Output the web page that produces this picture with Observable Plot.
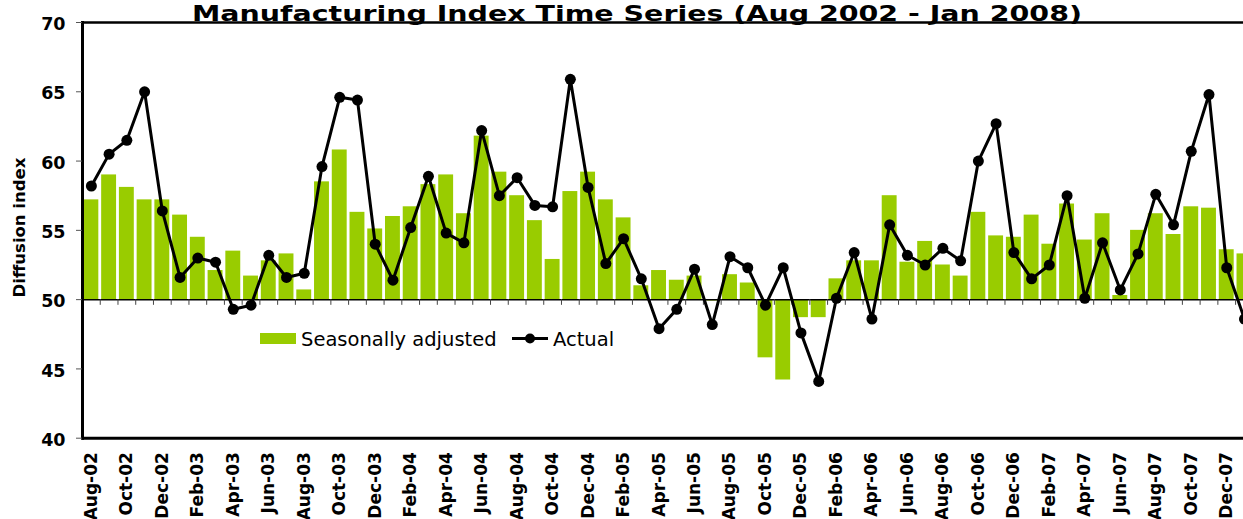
<!DOCTYPE html>
<html><head><meta charset="utf-8">
<script src="https://cdn.jsdelivr.net/npm/d3@7"></script>
<script src="https://cdn.jsdelivr.net/npm/@observablehq/plot@0.6"></script>
<style>
html,body{margin:0;padding:0;background:#fff;overflow:hidden;}
#wrap{position:relative;width:1243px;height:519px;}
#overlay{position:absolute;left:0;top:0;pointer-events:none;}
</style></head><body>
<div id="wrap"></div>
<script>
const months = ["Aug-02","Sep-02","Oct-02","Nov-02","Dec-02","Jan-03","Feb-03","Mar-03","Apr-03","May-03","Jun-03","Jul-03",
"Aug-03","Sep-03","Oct-03","Nov-03","Dec-03","Jan-04","Feb-04","Mar-04","Apr-04","May-04","Jun-04","Jul-04",
"Aug-04","Sep-04","Oct-04","Nov-04","Dec-04","Jan-05","Feb-05","Mar-05","Apr-05","May-05","Jun-05","Jul-05",
"Aug-05","Sep-05","Oct-05","Nov-05","Dec-05","Jan-06","Feb-06","Mar-06","Apr-06","May-06","Jun-06","Jul-06",
"Aug-06","Sep-06","Oct-06","Nov-06","Dec-06","Jan-07","Feb-07","Mar-07","Apr-07","May-07","Jun-07","Jul-07",
"Aug-07","Sep-07","Oct-07","Nov-07","Dec-07","Jan-08"];
const seasonallyAdjusted = [57.2,59.0,58.1,57.2,57.2,56.1,54.5,52.1,53.5,51.7,52.8,53.3,
50.7,58.5,60.8,56.3,55.1,56.0,56.7,58.3,59.0,56.2,61.8,59.2,
57.5,55.7,52.9,57.8,59.2,57.2,55.9,51.0,52.1,51.4,51.7,49.9,
51.8,51.2,45.8,44.2,48.7,48.7,51.5,52.8,52.8,57.5,52.7,54.2,
52.5,51.7,56.3,54.6,54.5,56.1,54.0,56.9,54.3,56.2,50.3,55.0,
56.2,54.7,56.7,56.6,53.6,53.3];
const actual = [58.2,60.5,61.5,65.0,56.4,51.6,53.0,52.7,49.3,49.6,53.2,51.6,
51.9,59.6,64.6,64.4,54.0,51.4,55.2,58.9,54.8,54.1,62.2,57.5,
58.8,56.8,56.7,65.9,58.1,52.6,54.4,51.5,47.9,49.3,52.2,48.2,
53.1,52.3,49.6,52.3,47.6,44.1,50.1,53.4,48.6,55.4,53.2,52.5,
53.7,52.8,60.0,62.7,53.4,51.5,52.5,57.5,50.1,54.1,50.7,53.3,
57.6,55.4,60.7,64.8,52.3,48.6];
const yTicks = [40,45,50,55,60,65,70];
const labelMonths = months.filter((d,i)=>i%2===0);
const titleText = "Manufacturing Index Time Series (Aug 2002 - Jan 2008)";
const yLabel = "Diffusion index";
const seriesNames = ["Seasonally adjusted","Actual"];
const barColor = "#99cc00";

const data = months.map((m,i)=>({month:m, sa:seasonallyAdjusted[i], actual:actual[i]}));
const step = 17.74;
const font = "'DejaVu Sans', Verdana, sans-serif";

const chart = Plot.plot({
  width:1243, height:519, marginLeft:82, marginRight:0, marginTop:22, marginBottom:81.3,
  style:{fontFamily:font, background:"#fff", color:"#000", overflow:"hidden"},
  x:{type:"band", domain:months, range:[82, 82+months.length*step], paddingInner:0.16, paddingOuter:0.08},
  y:{domain:[40,70]},
  marks:[
    Plot.barY(data,{x:"month", y1:50, y2:"sa", fill:barColor}),
    Plot.ruleY([50],{stroke:"#000", strokeWidth:1.5}),
    Plot.ruleX(months.slice(1),{x:d=>d, y1:50, y2:49.59, dx:-step/2, stroke:"#444", strokeWidth:1}),
    Plot.ruleY([70],{stroke:"#000", strokeWidth:2.5}),
    Plot.ruleY([40],{stroke:"#000", strokeWidth:3}),
    Plot.frame({anchor:"left", stroke:"#000", strokeWidth:3}),
    Plot.axisY({ticks:yTicks, tickSize:6, tickFormat:()=>"", stroke:"#555", label:null}),
    Plot.axisY({ticks:yTicks, tickSize:0, tickPadding:17, dy:2, fontSize:17.5, fontWeight:"bold", label:null}),
    Plot.axisX({ticks:labelMonths, tickSize:0, tickPadding:14, tickRotate:-90, fontSize:17, fontWeight:"bold", label:null}),
    Plot.lineY(data,{x:"month", y:"actual", stroke:"#000", strokeWidth:3}),
    Plot.dot(data,{x:"month", y:"actual", r:5.5, fill:"#000"})
  ]
});
const wrap = document.getElementById("wrap");
wrap.appendChild(chart);

const ns = "http://www.w3.org/2000/svg";
const ov = document.createElementNS(ns,"svg");
ov.setAttribute("id","overlay");
ov.setAttribute("width","1243"); ov.setAttribute("height","519");
ov.style.fontFamily = font;
function el(tag, attrs, text){
  const e = document.createElementNS(ns, tag);
  for (const k in attrs) e.setAttribute(k, attrs[k]);
  if (text != null) e.textContent = text;
  ov.appendChild(e); return e;
}
el("text",{x:637, y:20.5, "text-anchor":"middle", "font-size":22, "font-weight":"bold", fill:"#000",
  textLength:890, lengthAdjust:"spacingAndGlyphs"}, titleText);
el("text",{transform:"translate(25,227.5) rotate(-90)", "text-anchor":"middle", "font-size":16.5, "font-weight":"bold", fill:"#000"}, yLabel);
el("rect",{x:260, y:333, width:36, height:11, fill:barColor});
el("text",{x:301, y:346, "font-size":19.5, fill:"#000"}, seriesNames[0]);
el("line",{x1:512, x2:548, y1:338.5, y2:338.5, stroke:"#000", "stroke-width":3});
el("circle",{cx:530, cy:338.5, r:5, fill:"#000"});
el("text",{x:553, y:346, "font-size":19.5, fill:"#000"}, seriesNames[1]);
wrap.appendChild(ov);
</script>
</body></html>
